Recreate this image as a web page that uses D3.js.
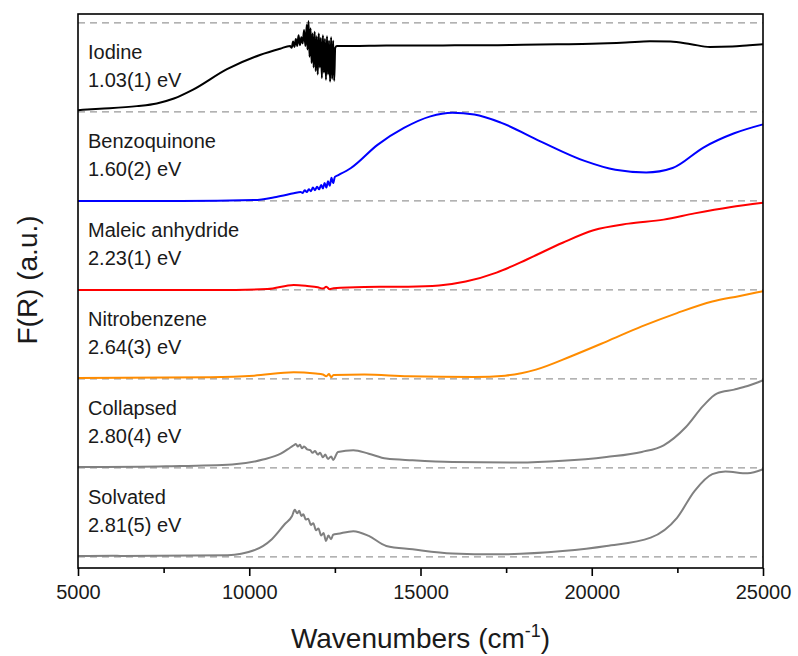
<!DOCTYPE html>
<html>
<head>
<meta charset="utf-8">
<script src="https://cdn.jsdelivr.net/npm/d3@7"></script>
<style>
  body { margin: 0; background: #fff; }
  text { font-family: Arial, "Liberation Sans", sans-serif; fill: #1a1a1a; }
</style>
</head>
<body>
<div id="chart"></div>
<script>
// Spectra: [wavenumber, F(R) within its band]
var iodine = [
  [5000, 0.02], [5640, 0.035], [6720, 0.065], [7300, 0.095], [7800, 0.15], [8360, 0.25],
  [9350, 0.48], [10310, 0.64], [10900, 0.71], [11190, 0.74],
  [11240, 0.72], [11280, 0.79], [11320, 0.73], [11360, 0.82], [11400, 0.74], [11440, 0.86],
  [11480, 0.75], [11520, 0.84], [11560, 0.77], [11600, 0.92], [11640, 0.74], [11680, 0.98],
  [11700, 0.7], [11730, 1.02], [11760, 0.62], [11790, 0.94], [11820, 0.55], [11850, 0.88],
  [11880, 0.5], [11910, 0.9], [11940, 0.46], [11970, 0.85], [12000, 0.42], [12030, 0.88],
  [12060, 0.5], [12090, 0.83], [12120, 0.38], [12150, 0.86], [12180, 0.44], [12210, 0.82],
  [12240, 0.36], [12270, 0.85], [12300, 0.42], [12330, 0.8], [12360, 0.34], [12390, 0.84],
  [12420, 0.37], [12450, 0.8], [12480, 0.35], [12510, 0.72], [12560, 0.74],
  [13000, 0.74], [14000, 0.745], [15000, 0.745], [16000, 0.75], [17000, 0.75], [18000, 0.755],
  [19000, 0.76], [20000, 0.765], [21000, 0.78], [21700, 0.795], [22300, 0.79], [22900, 0.76],
  [23450, 0.73], [24100, 0.735], [24600, 0.75], [25000, 0.76]
];
var benzoquinone = [
  [5000, 0.0], [8000, 0.0], [10140, 0.01], [10790, 0.045], [11300, 0.085],
  [11500, 0.1], [11560, 0.09], [11620, 0.12], [11680, 0.1], [11740, 0.13], [11800, 0.11],
  [11860, 0.15], [11920, 0.12], [11980, 0.16], [12040, 0.13], [12100, 0.18], [12150, 0.14],
  [12200, 0.2], [12250, 0.15], [12300, 0.22], [12350, 0.17], [12400, 0.26], [12450, 0.2],
  [12500, 0.27], [12600, 0.29], [12970, 0.37], [13745, 0.63], [14516, 0.82], [15290, 0.95],
  [15930, 0.99], [16570, 0.97], [17345, 0.88], [18500, 0.67], [19790, 0.45], [20690, 0.35],
  [21590, 0.32], [22360, 0.37], [23260, 0.6], [24160, 0.76], [25000, 0.86]
];
var maleic = [
  [5000, 0.0], [9000, 0.0], [10530, 0.01], [11300, 0.056], [11690, 0.045], [12000, 0.03],
  [12150, 0.015], [12250, 0.035], [12350, 0.008], [12460, 0.02], [13360, 0.034],
  [14640, 0.037], [15540, 0.05], [16320, 0.094], [17220, 0.195], [18120, 0.345],
  [19150, 0.53], [20050, 0.67], [21075, 0.745], [22100, 0.79], [23000, 0.86],
  [24030, 0.93], [25000, 0.98]
];
var nitrobenzene = [
  [5000, 0.01], [8860, 0.02], [10140, 0.037], [11300, 0.075], [11940, 0.06], [12150, 0.05],
  [12250, 0.03], [12330, 0.055], [12390, 0.02], [12460, 0.045], [13360, 0.05],
  [14640, 0.03], [16570, 0.022], [17470, 0.037], [18370, 0.105], [19400, 0.255],
  [20430, 0.42], [21460, 0.59], [22490, 0.74], [23520, 0.87], [24290, 0.93], [25000, 0.985]
];
var collapsed = [
  [5000, 0.01], [7570, 0.02], [9500, 0.04], [10400, 0.094], [10920, 0.16], [11200, 0.23],
  [11300, 0.255], [11360, 0.27], [11420, 0.24], [11480, 0.26], [11540, 0.22], [11600, 0.24],
  [11690, 0.21], [11780, 0.2], [11850, 0.17], [11920, 0.19], [12000, 0.15], [12070, 0.17],
  [12150, 0.12], [12220, 0.15], [12300, 0.1], [12390, 0.13], [12450, 0.09], [12590, 0.18],
  [13040, 0.2], [13490, 0.16], [14000, 0.105], [14770, 0.086], [15930, 0.067],
  [17860, 0.06], [19150, 0.08], [20430, 0.124], [21460, 0.18], [22100, 0.255],
  [22750, 0.46], [23260, 0.7], [23650, 0.835], [24160, 0.88], [24550, 0.92], [25000, 0.985]
];
var solvated = [
  [5000, 0.01], [6000, 0.015], [6290, 0.01], [9370, 0.02], [10140, 0.075], [10660, 0.2],
  [11040, 0.37], [11250, 0.46], [11330, 0.53], [11400, 0.49], [11460, 0.52], [11520, 0.46],
  [11580, 0.48], [11650, 0.42], [11720, 0.43], [11800, 0.36], [11870, 0.38], [11950, 0.3],
  [12020, 0.32], [12100, 0.24], [12170, 0.27], [12240, 0.18], [12310, 0.24], [12390, 0.2],
  [12450, 0.25], [12590, 0.26], [13040, 0.29], [13490, 0.236], [14000, 0.124],
  [14770, 0.086], [15930, 0.04], [17220, 0.03], [19150, 0.067], [20430, 0.124],
  [21720, 0.217], [22490, 0.44], [23000, 0.74], [23520, 0.93], [23900, 0.96],
  [24550, 0.94], [25000, 0.985]
];

var seriesNames = ["Iodine", "Benzoquinone", "Maleic anhydride", "Nitrobenzene", "Collapsed", "Solvated"];
var gaps = ["1.03(1) eV", "1.60(2) eV", "2.23(1) eV", "2.64(3) eV", "2.80(4) eV", "2.81(5) eV"];
var seriesColors = ["#000000", "#0000ff", "#ff0000", "#ff8c00", "#808080", "#808080"];
var seriesData = [iodine, benzoquinone, maleic, nitrobenzene, collapsed, solvated];
var offsets = [5, 4, 3, 2, 1, 0];
var xTicks = [5000, 10000, 15000, 20000, 25000];

// Sizes
var svgWidth = 798;
var svgHeight = 656;
var margin = { top: 14, right: 35, bottom: 88, left: 78 };
var width = svgWidth - margin.left - margin.right;
var height = svgHeight - margin.top - margin.bottom;

var svg = d3.select("#chart")
  .append("svg")
  .attr("width", svgWidth)
  .attr("height", svgHeight);

var chartGroup = svg.append("g")
  .attr("transform", `translate(${margin.left}, ${margin.top})`);

var xScale = d3.scaleLinear().domain([5000, 25000]).range([0, width]);
var yScale = d3.scaleLinear().domain([-0.124, 6.1]).range([height, 0]);

// dashed zero lines for each band
chartGroup.selectAll(".zero")
  .data(d3.range(0, 7))
  .enter()
  .append("line")
  .attr("x1", 0)
  .attr("x2", width)
  .attr("y1", d => yScale(d))
  .attr("y2", d => yScale(d))
  .attr("stroke", "#999")
  .attr("stroke-width", 1.2)
  .attr("stroke-dasharray", "7,5");

var line = d3.line().curve(d3.curveMonotoneX);

seriesData.forEach(function(data, i) {
  chartGroup.append("path")
    .datum(data)
    .attr("fill", "none")
    .attr("stroke", seriesColors[i])
    .attr("stroke-width", 2)
    .attr("d", line.x(d => xScale(d[0])).y(d => yScale(d[1] + offsets[i])));

  var label = chartGroup.append("g")
    .attr("transform", `translate(10, ${yScale(offsets[i])})`);
  label.append("text").attr("y", -53).attr("font-size", "20px").text(seriesNames[i]);
  label.append("text").attr("y", -25).attr("font-size", "20px").text(gaps[i]);
});

// frame
chartGroup.append("rect")
  .attr("width", width)
  .attr("height", height)
  .attr("fill", "none")
  .attr("stroke", "#000")
  .attr("stroke-width", 1.6);

// bottom axis: major ticks with labels, minor ticks between
var bottomAxis = d3.axisBottom(xScale)
  .tickValues(xTicks)
  .tickSize(8)
  .tickFormat(d3.format("d"));

var xAxis = chartGroup.append("g")
  .attr("transform", `translate(0, ${height})`)
  .call(bottomAxis);
xAxis.select(".domain").remove();
xAxis.selectAll("line").attr("stroke-width", 1.6);
xAxis.selectAll("text")
  .attr("font-size", "20px")
  .attr("font-family", "Arial, 'Liberation Sans', sans-serif")
  .attr("fill", "#1a1a1a")
  .attr("dy", "1em");

var minorAxis = d3.axisBottom(xScale)
  .tickValues([7500, 12500, 17500, 22500])
  .tickSize(5)
  .tickFormat("");
chartGroup.append("g")
  .attr("transform", `translate(0, ${height})`)
  .call(minorAxis)
  .call(g => g.select(".domain").remove())
  .selectAll("line").attr("stroke-width", 1.6);

// axis titles
var xTitle = svg.append("text")
  .attr("x", margin.left + width / 2)
  .attr("y", 648)
  .attr("text-anchor", "middle")
  .attr("font-size", "28px");
xTitle.append("tspan").text("Wavenumbers (cm");
xTitle.append("tspan").attr("dy", -11).attr("font-size", "18px").text("-1");
xTitle.append("tspan").attr("dy", 11).text(")");

svg.append("text")
  .attr("transform", `translate(37, 280) rotate(-90)`)
  .attr("text-anchor", "middle")
  .attr("font-size", "28px")
  .text("F(R) (a.u.)");
</script>
</body>
</html>
